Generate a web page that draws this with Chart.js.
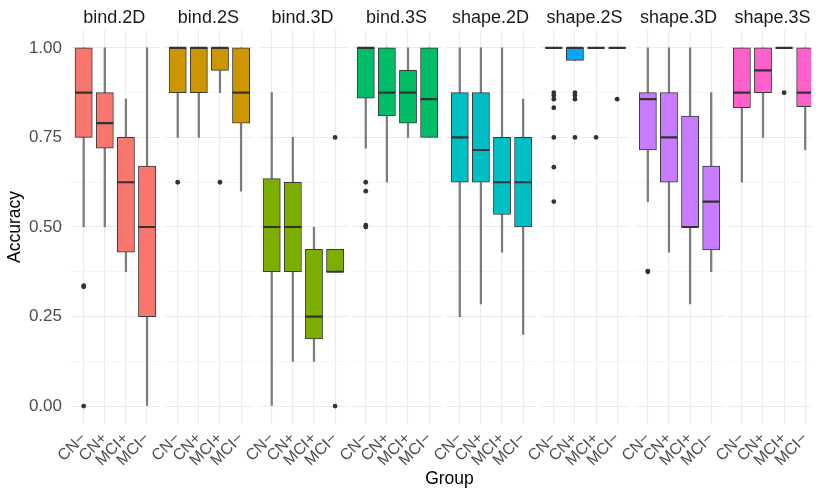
<!DOCTYPE html>
<html><head><meta charset="utf-8">
<script src="https://cdn.jsdelivr.net/npm/chart.js@4.4.0/dist/chart.umd.min.js"></script>
<style>html,body{margin:0;padding:0;background:#fff;}#wrap{width:822px;height:488px;position:relative;overflow:hidden;}</style>
</head><body><div id="wrap"><canvas id="c" width="822" height="488"></canvas></div>
<script>
// ---------- data ----------
const facets = ['bind.2D','bind.2S','bind.3D','bind.3S','shape.2D','shape.2S','shape.3D','shape.3S'];
const groups = ['CN\u2212','CN+','MCI+','MCI\u2212'];
const fillColors = ['#F8766D','#CD9600','#7CAE00','#00BE67','#00BFC4','#00A9FF','#C77CFF','#FF61CC'];

const whiskerLow = [
  [0.5, 0.5, 0.375, 0],
  [0.75, 0.75, 0.875, 0.6],
  [0, 0.125, 0.125, 0.375],
  [0.72, 0.625, 0.75, 0.75],
  [0.25, 0.285, 0.43, 0.2],
  [1, 0.965, 1, 1],
  [0.571, 0.43, 0.285, 0.375],
  [0.625, 0.75, 1, 0.715]
];
const boxLow = [
  [0.75, 0.72, 0.43, 0.25],
  [0.875, 0.875, 0.9375, 0.79],
  [0.375, 0.375, 0.1875, 0.375],
  [0.86, 0.81, 0.79, 0.75],
  [0.625, 0.625, 0.535, 0.5],
  [1, 0.965, 1, 1],
  [0.715, 0.625, 0.5, 0.436],
  [0.833, 0.875, 1, 0.836]
];
const medians = [
  [0.875, 0.79, 0.625, 0.5],
  [1, 1, 1, 0.875],
  [0.5, 0.5, 0.25, 0.375],
  [1, 0.875, 0.875, 0.857],
  [0.75, 0.715, 0.625, 0.625],
  [1, 1, 1, 1],
  [0.857, 0.75, 0.5, 0.571],
  [0.875, 0.9375, 1, 0.875]
];
const boxHigh = [
  [1, 0.875, 0.75, 0.67],
  [1, 1, 1, 1],
  [0.635, 0.625, 0.4375, 0.4375],
  [1, 1, 0.9375, 1],
  [0.875, 0.875, 0.75, 0.75],
  [1, 1, 1, 1],
  [0.875, 0.875, 0.81, 0.67],
  [1, 1, 1, 1]
];
const whiskerHigh = [
  [1, 1, 0.857, 1],
  [1, 1, 1, 1],
  [0.875, 0.75, 0.5, 0.4375],
  [1, 1, 1, 1],
  [1, 1, 1, 0.857],
  [1, 1, 1, 1],
  [1, 1, 1, 0.875],
  [1, 1, 1, 1]
];
const outliers = [
  [[0.333, 0.336, 0], [], [], []],
  [[0.625], [], [0.625], []],
  [[], [], [], [0.75, 0]],
  [[0.625, 0.6, 0.5, 0.505], [], [], []],
  [[], [], [], []],
  [[0.875, 0.867, 0.857, 0.833, 0.75, 0.667, 0.571], [0.875, 0.867, 0.857, 0.75], [0.75], [0.857]],
  [[0.375, 0.377], [], [], []],
  [[], [], [0.875], []]
];
const yMajor = [0, 0.25, 0.5, 0.75, 1];
const yMinor = [0.125, 0.375, 0.625, 0.875];

// ---------- layout helpers ----------
const PX_PER_UNIT = 90 / 4.2;
const PANEL_W = 4.2;
const PANEL_STRIDE = 95.4 / PX_PER_UNIT;
const X_MAX = 751 / PX_PER_UNIT;
const catX = (f, g) => f * PANEL_STRIDE + 0.6 + g;

const whiskerData = [], boxData = [], boxColors = [], medianData = [], outlierData = [];
facets.forEach((name, f) => {
  groups.forEach((gname, g) => {
    const x = catX(f, g);
    whiskerData.push({x, y: [whiskerLow[f][g], whiskerHigh[f][g]]});
    boxData.push({x, y: [boxLow[f][g], boxHigh[f][g]]});
    boxColors.push(fillColors[f]);
    medianData.push({x, y: medians[f][g]});
    outliers[f][g].forEach(v => outlierData.push({x, y: v}));
  });
});
const xTickVals = [];
facets.forEach((n, f) => groups.forEach((g, j) => xTickVals.push(catX(f, j))));

const FONT = '"Liberation Sans", Arial, sans-serif';

const gapPlugin = {
  id: 'gaps',
  beforeDatasetsDraw(chart) {
    const {ctx, chartArea} = chart;
    const xs = chart.scales.x;
    ctx.save();
    ctx.fillStyle = '#ffffff';
    for (let f = 0; f < facets.length - 1; f++) {
      const a = xs.getPixelForValue(f * PANEL_STRIDE + PANEL_W);
      const b = xs.getPixelForValue((f + 1) * PANEL_STRIDE);
      ctx.fillRect(a, chartArea.top - 2, b - a, chartArea.bottom - chartArea.top + 4);
    }
    ctx.restore();
  }
};
const textPlugin = {
  id: 'texts',
  afterDraw(chart) {
    const {ctx, chartArea} = chart;
    const xs = chart.scales.x;
    ctx.save();
    ctx.fillStyle = '#1a1a1a';
    ctx.font = '18px ' + FONT;
    ctx.textAlign = 'center';
    ctx.textBaseline = 'alphabetic';
    facets.forEach((name, f) => {
      ctx.fillText(name, xs.getPixelForValue(f * PANEL_STRIDE + PANEL_W / 2) - 1, 23);
    });
    ctx.fillStyle = '#000';
    ctx.font = '17.5px ' + FONT;
    ctx.fillText('Group', 449.5, 484);
    ctx.translate(15, (chartArea.top + chartArea.bottom) / 2);
    ctx.rotate(-Math.PI / 2);
    ctx.textBaseline = 'middle';
    ctx.fillText('Accuracy', 0, 0);
    ctx.restore();
  }
};

new Chart(document.getElementById('c'), {
  type: 'bar',
  data: {
    datasets: [
      {type: 'bar', data: whiskerData, backgroundColor: '#7c7c7c', barThickness: 1.6, grouped: false, order: 4, borderWidth: 0},
      {type: 'bar', data: boxData, backgroundColor: boxColors, borderColor: '#3a3a3a', borderWidth: 1, borderSkipped: false, barThickness: 17.2, grouped: false, order: 3},
      {type: 'scatter', data: medianData, pointStyle: 'line', pointRadius: 8.6, borderColor: '#333333', pointBorderWidth: 2.2, borderWidth: 2.2, order: 2},
      {type: 'scatter', data: outlierData, pointStyle: 'circle', pointRadius: 2.4, backgroundColor: '#333333', borderColor: '#333333', borderWidth: 0, order: 1}
    ]
  },
  options: {
    responsive: false,
    animation: false,
    events: [],
    indexAxis: 'x',
    layout: {padding: {top: 30, left: 0, right: 0, bottom: 0}},
    plugins: {legend: {display: false}, tooltip: {enabled: false}, title: {display: false}},
    scales: {
      x: {
        type: 'linear', min: 0, max: X_MAX, offset: false,
        afterBuildTicks: s => { s.ticks = xTickVals.map(v => ({value: v})); },
        afterFit: s => { s.height = 64; s.paddingLeft = 0; s.paddingRight = 0; },
        ticks: {autoSkip: false, minRotation: 45, maxRotation: 45, padding: 5,
          color: '#4d4d4d', font: {family: FONT, size: 16},
          callback: (v, i) => groups[i % 4]},
        grid: {color: '#ebebeb', lineWidth: 1.1, drawTicks: false, offset: false},
        border: {display: false}
      },
      y: {
        type: 'linear', min: -0.05, max: 1.05,
        afterBuildTicks: s => { s.ticks = yMajor.concat(yMinor).sort((a, b) => a - b).map(v => ({value: v})); },
        afterFit: s => { s.width = 71; },
        ticks: {autoSkip: false, padding: 9, color: '#4d4d4d', font: {family: FONT, size: 17},
          callback: v => yMajor.includes(v) ? v.toFixed(2) : ''},
        grid: {drawTicks: false,
          color: c => (c.tick && yMinor.includes(c.tick.value)) ? '#f2f2f2' : '#ebebeb',
          lineWidth: c => (c.tick && yMinor.includes(c.tick.value)) ? 0.7 : 1.1},
        border: {display: false}
      }
    }
  },
  plugins: [gapPlugin, textPlugin]
});
</script></body></html>
